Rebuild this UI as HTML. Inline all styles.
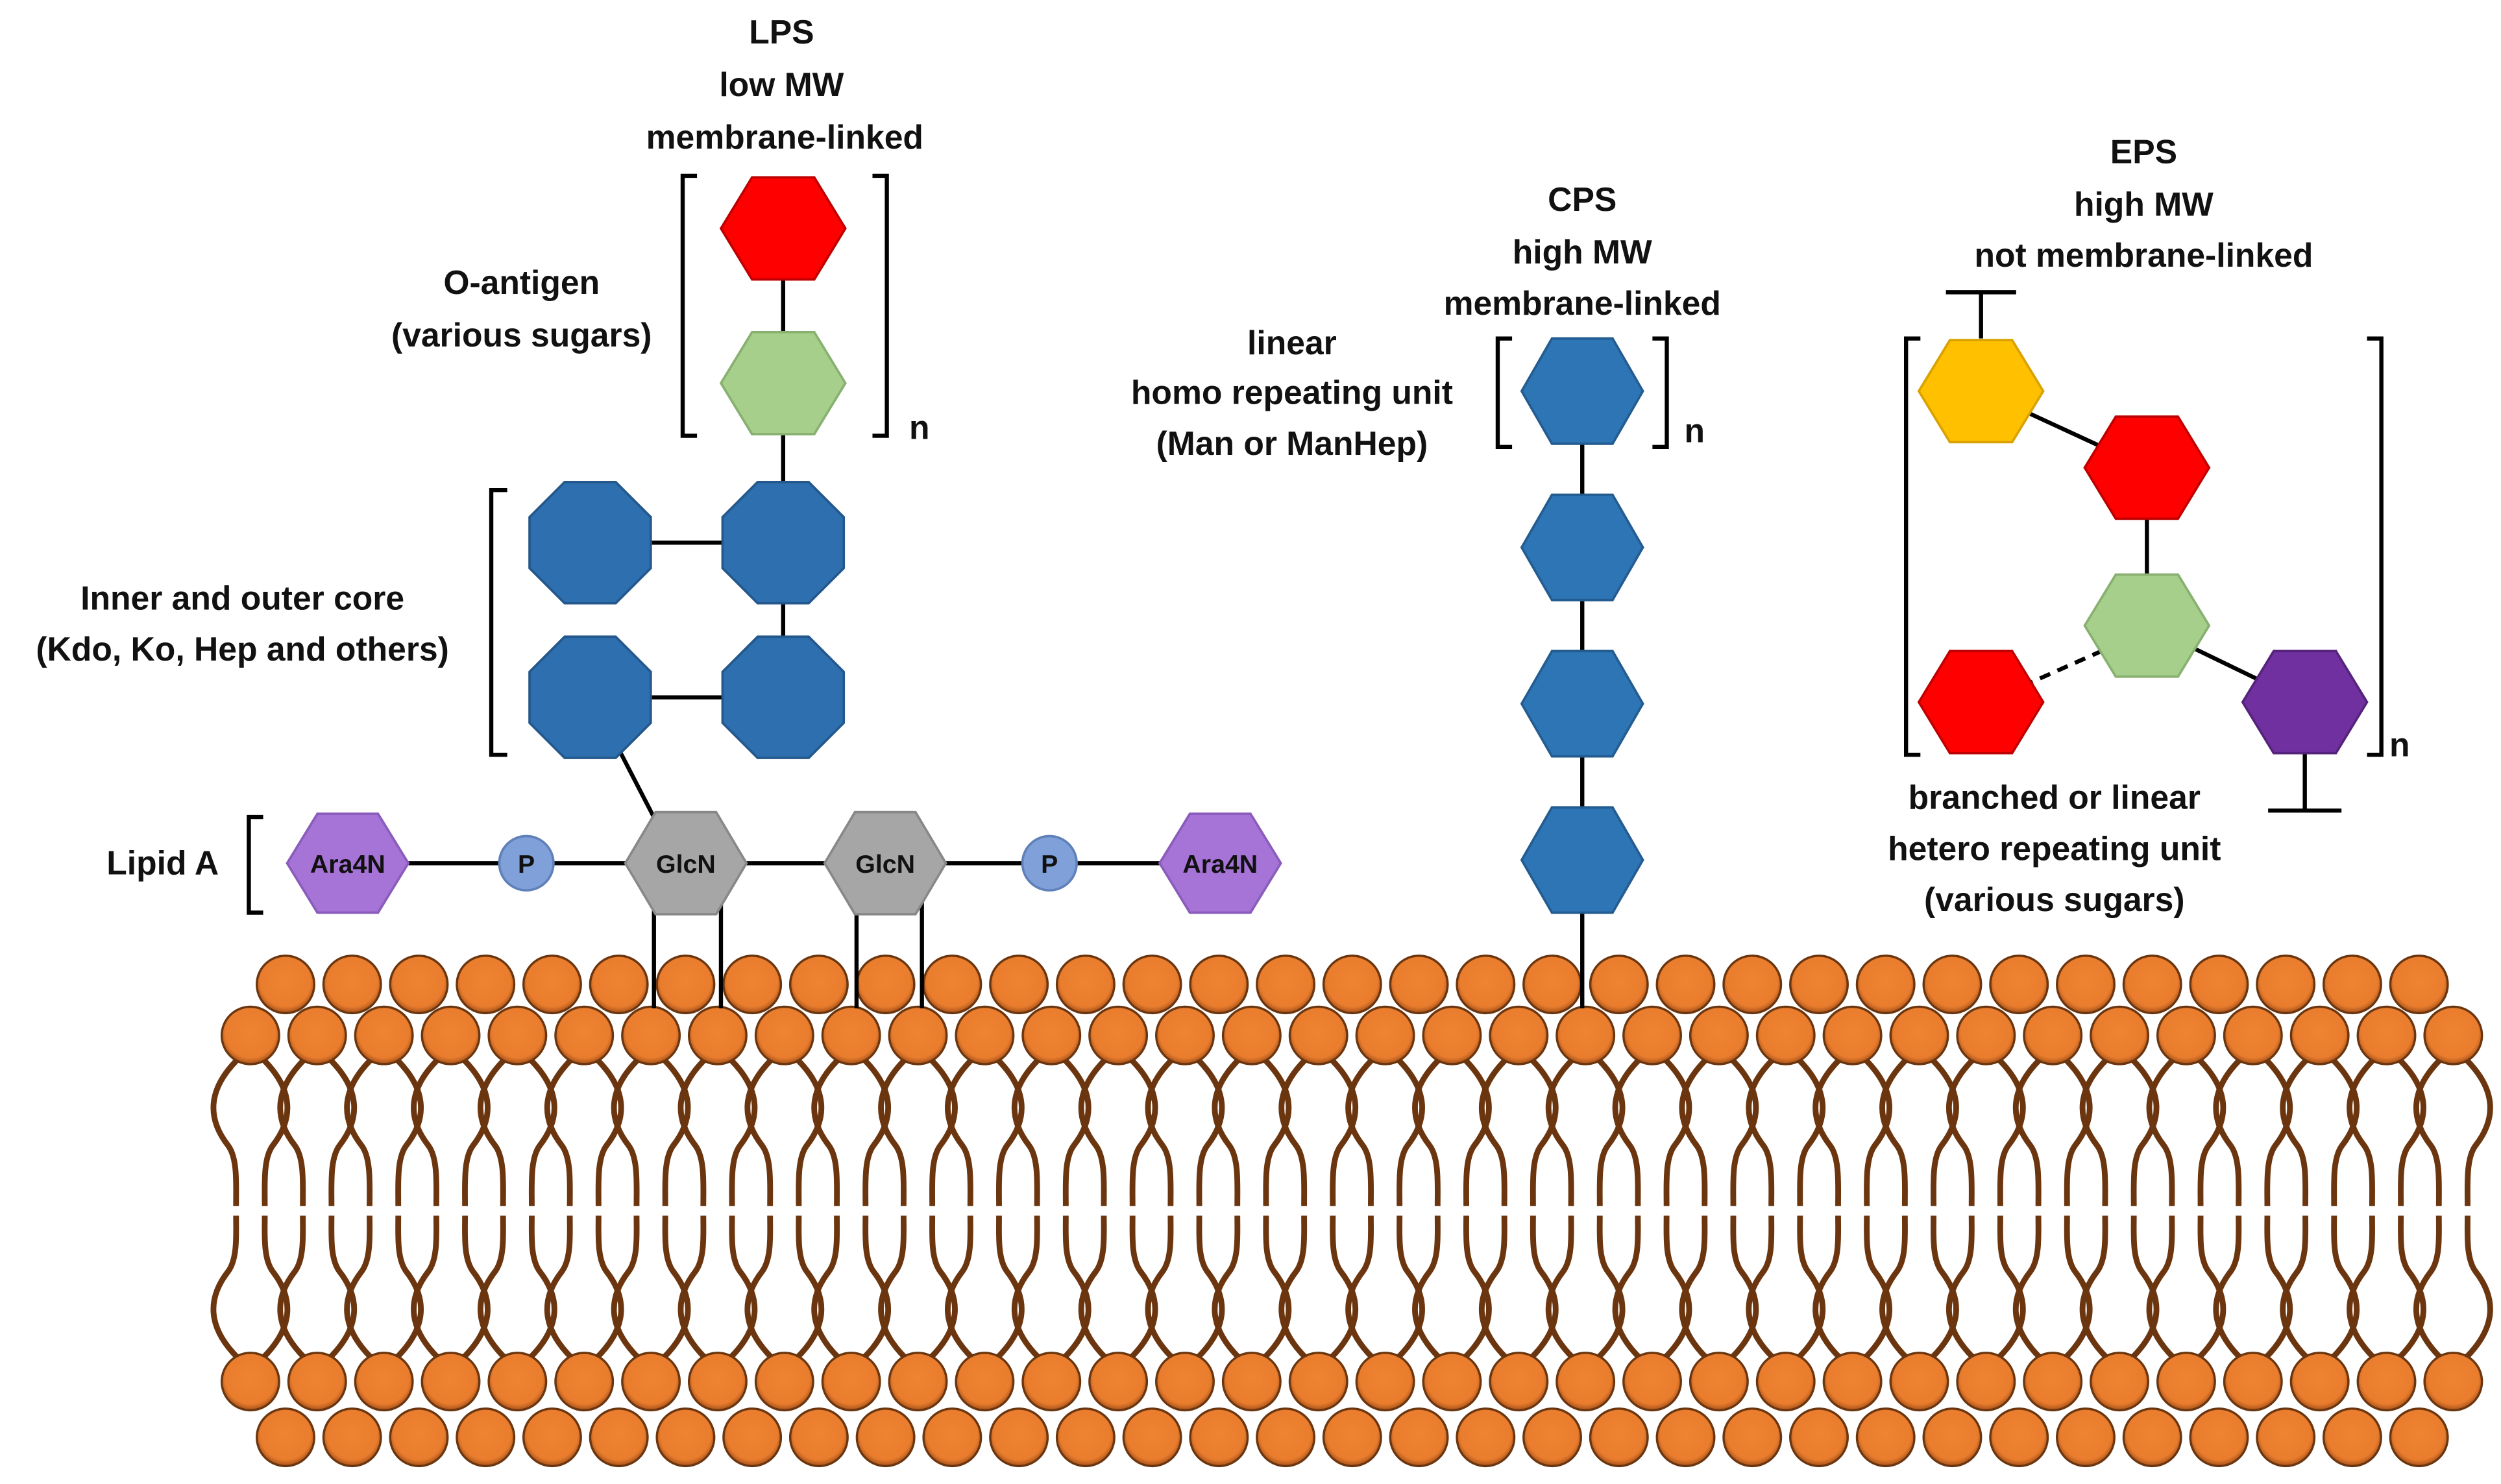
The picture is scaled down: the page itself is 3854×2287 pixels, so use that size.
<!DOCTYPE html>
<html><head><meta charset="utf-8">
<style>
html,body{margin:0;padding:0;background:#fff;}
svg{display:block;}
text{font-family:"Liberation Sans",sans-serif;font-weight:bold;fill:#111;}
</style></head>
<body>
<svg id="s" width="3854" height="2287" viewBox="0 0 1568 930" xmlns="http://www.w3.org/2000/svg">
<g id="mem"></g>
<g stroke="#000" stroke-width="2.6" fill="none">
  <line x1="491" y1="143" x2="491" y2="437"/>
  <line x1="370" y1="340" x2="491" y2="340"/>
  <line x1="370" y1="437" x2="491" y2="437"/>
  <line x1="383" y1="460" x2="414" y2="520"/>
  <line x1="218" y1="541" x2="765" y2="541"/>
  <line x1="410" y1="560" x2="410" y2="632"/>
  <line x1="452" y1="560" x2="452" y2="632"/>
  <line x1="537" y1="560" x2="537" y2="632"/>
  <line x1="578" y1="560" x2="578" y2="632"/>
  <line x1="992" y1="245" x2="992" y2="632"/>
  <line x1="1242" y1="245" x2="1346" y2="293"/>
  <line x1="1346" y1="293" x2="1346" y2="392"/>
  <line x1="1346" y1="392" x2="1445" y2="440"/>
  <line x1="1268" y1="430" x2="1322" y2="406" stroke-dasharray="7,5"/>
  <line x1="1242" y1="212" x2="1242" y2="183"/>
  <line x1="1220" y1="183" x2="1264" y2="183"/>
  <line x1="1445" y1="470" x2="1445" y2="508"/>
  <line x1="1422" y1="508" x2="1468" y2="508"/>
  <polyline points="437,110 428,110 428,273 437,273"/>
  <polyline points="547,110 556,110 556,273 547,273"/>
  <polyline points="318,307 308,307 308,473 318,473"/>
  <polyline points="165,512 156,512 156,572 165,572"/>
  <polyline points="948,212 939,212 939,280 948,280"/>
  <polyline points="1036,212 1045,212 1045,280 1036,280"/>
  <polyline points="1204,212 1195,212 1195,473 1204,473"/>
  <polyline points="1484,212 1493,212 1493,473 1484,473"/>
</g>
<g id="shapes"></g>
<g text-anchor="middle" font-size="21">
  <text x="490" y="27">LPS</text>
  <text x="490" y="60">low MW</text>
  <text x="492" y="93">membrane-linked</text>
  <text x="327" y="184">O-antigen</text>
  <text x="327" y="217">(various sugars)</text>
  <text x="570" y="275" text-anchor="start">n</text>
  <text x="152" y="382">Inner and outer core</text>
  <text x="152" y="414">(Kdo, Ko, Hep and others)</text>
  <text x="102" y="548">Lipid A</text>
  <text x="992" y="132">CPS</text>
  <text x="992" y="165">high MW</text>
  <text x="992" y="197">membrane-linked</text>
  <text x="810" y="222">linear</text>
  <text x="810" y="253">homo repeating unit</text>
  <text x="810" y="285">(Man or ManHep)</text>
  <text x="1056" y="277" text-anchor="start">n</text>
  <text x="1344" y="102">EPS</text>
  <text x="1344" y="135">high MW</text>
  <text x="1344" y="167">not membrane-linked</text>
  <text x="1498" y="474" text-anchor="start">n</text>
  <text x="1288" y="507">branched or linear</text>
  <text x="1288" y="539">hetero repeating unit</text>
  <text x="1288" y="571">(various sugars)</text>
</g>
<g text-anchor="middle" font-size="16">
  <text x="218" y="547">Ara4N</text>
  <text x="330" y="547">P</text>
  <text x="430" y="547">GlcN</text>
  <text x="555" y="547">GlcN</text>
  <text x="658" y="547">P</text>
  <text x="765" y="547">Ara4N</text>
</g>
</svg>
<script>
var NS="http://www.w3.org/2000/svg";
function el(p,t,a){var e=document.createElementNS(NS,t);for(var k in a)e.setAttribute(k,a[k]);p.appendChild(e);return e;}
var sh=document.getElementById('shapes');
function hex(x,y,f,s,w,h){w=w||39;h=h||32;var a=w*0.5;
 el(sh,'polygon',{points:[x-w,y,x-a,y-h,x+a,y-h,x+w,y,x+a,y+h,x-a,y+h].join(','),fill:f,stroke:s,'stroke-width':1.5});}
function oct(x,y){var a=38,b=16;
 el(sh,'polygon',{points:[x-b,y-a,x+b,y-a,x+a,y-b,x+a,y+b,x+b,y+a,x-b,y+a,x-a,y+b,x-a,y-b].join(','),fill:'#2e6fb0',stroke:'#24588c','stroke-width':1.5});}
hex(491,143,'#ff0000','#c00000');
hex(491,240,'#a6cf8c','#88b070');
oct(370,340);oct(491,340);oct(370,437);oct(491,437);
hex(218,541,'#a673d6','#8a5cbb',38,31);
el(sh,'circle',{cx:330,cy:541,r:17,fill:'#7fa0d8',stroke:'#5f80b8','stroke-width':1.5});
hex(430,541,'#a6a6a6','#888',38,32);
hex(555,541,'#a6a6a6','#888',38,32);
el(sh,'circle',{cx:658,cy:541,r:17,fill:'#7fa0d8',stroke:'#5f80b8','stroke-width':1.5});
hex(765,541,'#a673d6','#8a5cbb',38,31);
[245,343,441,539].forEach(function(y){hex(992,y,'#2e75b6','#235c90',38,33);});
hex(1242,245,'#ffc000','#d9a200');
hex(1346,293,'#ff0000','#c00000');
hex(1346,392,'#a6cf8c','#88b070');
hex(1242,440,'#ff0000','#c00000');
hex(1445,440,'#7030a0','#56237c');
var m=document.getElementById('mem');
var tc='#6b360f';
function tp(d){el(m,'path',{d:d,stroke:tc,'stroke-width':3.6,fill:'none'});}
function tail(x,top){
 var sgn=[1,-1];
 sgn.forEach(function(s){
  if(top){
   tp('M'+(x+8*s)+' 664 C'+(x+26*s)+' 682 '+(x+28*s)+' 700 '+(x+14*s)+' 718 C'+(x+8*s)+' 726 '+(x+9*s)+' 742 '+(x+9*s)+' 756');
  } else {
   tp('M'+(x+8*s)+' 851 C'+(x+26*s)+' 833 '+(x+28*s)+' 815 '+(x+14*s)+' 797 C'+(x+8*s)+' 789 '+(x+9*s)+' 774 '+(x+9*s)+' 762');
  }
 });
}
var defs=el(m,'defs',{});
var g=el(defs,'radialGradient',{id:'hg',cx:'50%',cy:'45%',r:'55%'});
el(g,'stop',{offset:'0%','stop-color':'#ef8433'});
el(g,'stop',{offset:'80%','stop-color':'#e97d2d'});
el(g,'stop',{offset:'100%','stop-color':'#a5501a'});
var i,x;
for(i=0;i<34;i++){x=157+41.85*i;tail(x,true);tail(x,false);}
function head(x,y){el(m,'circle',{cx:x,cy:y,r:18,fill:'url(#hg)',stroke:'#6b360f','stroke-width':1.4});}
for(i=0;i<33;i++){x=179+41.8*i;head(x,617);head(x,901);}
for(i=0;i<34;i++){x=157+41.85*i;head(x,649);head(x,866);}
</script>
</body></html>
